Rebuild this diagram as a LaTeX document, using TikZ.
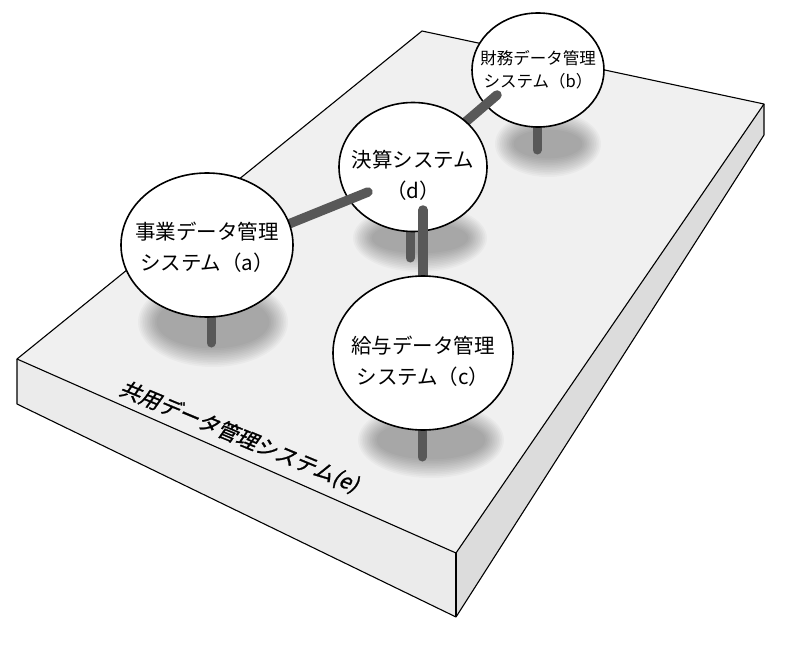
\documentclass[tikz,border=0pt]{standalone}
\usepackage{fontspec}
\usepackage{tikz}
\usetikzlibrary{shapes.geometric,calc}
\newfontfamily\jpfont{Noto Sans CJK JP}
\newfontfamily\jplabelfont[FakeSlant=0.22,FakeBold=1.2]{Noto Sans CJK JP}
\definecolor{slabtop}{HTML}{F0F0F0}
\definecolor{slableft}{HTML}{EBEBEB}
\definecolor{slabright}{HTML}{DCDCDC}
\definecolor{rodgray}{HTML}{585858}

\begin{document}
\begin{tikzpicture}[
  x=1pt, y=-1pt,
  face/.style={draw=black, line width=1.1pt, line join=round},
  balloon/.style={ellipse, draw=black, line width=1.6pt, fill=white, inner xsep=-16pt, inner ysep=0pt, align=center, font=\jpfont\fontsize{20.5}{31}\selectfont},
  rod/.style={draw=rodgray, line width=9pt, line cap=round},
  link/.style={draw=rodgray, line width=9.5pt, line cap=round},
  blur/.style={fill=black, opacity=0.028},
  slablbl/.style={font=\jplabelfont\fontsize{21}{21}\selectfont}
]
\useasboundingbox (0,0) rectangle (796,645);

% slab (e)
\coordinate (tback) at (422,31);
\coordinate (tright) at (764,104);
\coordinate (tfront) at (456,553);
\coordinate (tleft) at (17,359);
\coordinate (bright) at (764,135);
\coordinate (bfront) at (456,617);
\coordinate (bleft) at (17,404);
\fill[slabtop] (tback) -- (tright) -- (tfront) -- (tleft) -- cycle;
\fill[slableft] (tleft) -- (tfront) -- (bfront) -- (bleft) -- cycle;
\fill[slabright] (tfront) -- (tright) -- (bright) -- (bfront) -- cycle;
\draw[face] (tleft) -- (tback) -- (tright) -- (tfront) -- cycle;
\draw[face] (tleft) -- (bleft) -- (bfront) -- (bright) -- (tright);
\draw[face] (tfront) -- (bfront);

% shadows
\foreach \sx/\sy/\rx/\ry in {213/322/75/45, 548/144/53/33, 420/238/67/34, 431/440/73/38}
  \foreach \k in {0,...,11}
    \fill[blur] (\sx,\sy) ellipse ({\rx-1.7*\k} and {\ry-1.7*\k});

\node[slablbl, rotate=-22.6] (elbl) at (239,437) {共用データ管理システム(e)};

\coordinate (apos) at (207,245);
\coordinate (bpos) at (538,70);
\coordinate (cpos) at (423,353);
\coordinate (dpos) at (413,167);

% rods
\draw[rod] ($(apos)+(4,0)$) -- ++(0,98);
\draw[rod] ($(bpos)+(-1,0)$) -- ++(0,80);
\draw[rod] ($(dpos)+(-3,0)$) -- ++(0,91);
\draw[rod] ($(cpos)+(-1,0)$) -- ++(0,104);

\node[balloon, minimum width=132pt, minimum height=114pt, font=\jpfont\fontsize{16.5}{23.5}\selectfont] (b) at (bpos) {財務データ管理\\システム（b）};
\draw[link] (dpos) -- ([shift={(-41,25)}]b.center);
\node[balloon, minimum width=148pt, minimum height=129pt] (d) at (dpos) {\rule{0pt}{34pt}決算システム\\（d）};
\draw[link] ([shift={(10,43)}]d.center) -- (cpos);
\draw[link] ([shift={(-45,25)}]d.center) -- ($(apos)+(0,12)$);
\node[balloon, minimum width=172pt, minimum height=144pt] (a) at (apos) {\rule{0pt}{22pt}事業データ管理\\システム（a）};
\node[balloon, minimum width=180pt, minimum height=154pt] (c) at (cpos) {\rule{0pt}{34pt}給与データ管理\\システム（c）};

\end{tikzpicture}
\end{document}
